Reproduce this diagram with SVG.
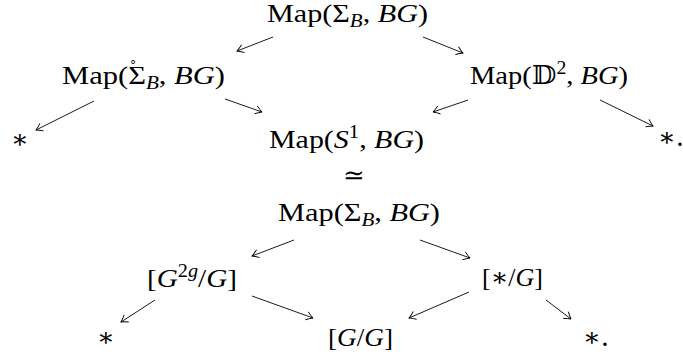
<svg xmlns="http://www.w3.org/2000/svg" width="683" height="354" viewBox="0 0 683 354">
<style>
text{font-family:"Liberation Serif","DejaVu Serif",serif;font-size:26px;fill:#000}
.i{font-style:italic}
.s{font-size:18px}
.m{font-family:"DejaVu Serif","DejaVu Sans",serif}
.c{stroke:#000;stroke-width:0.9;fill:none}
</style>
<defs>
<marker id="ah" viewBox="-8 -5 10 10" refX="0" refY="0" markerWidth="10" markerHeight="10" markerUnits="userSpaceOnUse" orient="auto">
<path d="M-6.5,-4.2 Q-2.5,-1.2 0,0 Q-2.5,1.2 -6.5,4.2" fill="none" stroke="#000" stroke-width="0.9"/>
</marker>
</defs>
<rect width="683" height="354" fill="#fff"/>
<g id="connectors">
<line class="c" x1="273" y1="37" x2="237" y2="51" marker-end="url(#ah)"/>
<line class="c" x1="423" y1="37" x2="463" y2="53" marker-end="url(#ah)"/>
<line class="c" x1="94" y1="101" x2="36" y2="130" marker-end="url(#ah)"/>
<line class="c" x1="225" y1="99" x2="262" y2="112" marker-end="url(#ah)"/>
<line class="c" x1="468" y1="100" x2="433" y2="112" marker-end="url(#ah)"/>
<line class="c" x1="600" y1="100" x2="653" y2="126" marker-end="url(#ah)"/>
<line class="c" x1="294" y1="240" x2="252" y2="256" marker-end="url(#ah)"/>
<line class="c" x1="420" y1="240" x2="470" y2="258" marker-end="url(#ah)"/>
<line class="c" x1="155" y1="300" x2="121" y2="322" marker-end="url(#ah)"/>
<line class="c" x1="252" y1="296" x2="313" y2="318" marker-end="url(#ah)"/>
<line class="c" x1="469" y1="292" x2="409" y2="318" marker-end="url(#ah)"/>
<line class="c" x1="546" y1="300" x2="571" y2="319" marker-end="url(#ah)"/>
</g>
<g id="n1"><text x="267" y="22" textLength="161" lengthAdjust="spacingAndGlyphs">Map(Σ<tspan class="i s" dy="5">B</tspan><tspan dy="-5">, </tspan><tspan class="i">BG</tspan>)</text></g>
<g id="n2"><text x="62" y="84" textLength="163" lengthAdjust="spacingAndGlyphs">Map(Σ<tspan class="i s" dy="5">B</tspan><tspan dy="-5">, </tspan><tspan class="i">BG</tspan>)</text><text x="133" y="75" style="font-size:20px" text-anchor="middle">˚</text></g>
<g id="n3"><text x="470" y="84" textLength="158" lengthAdjust="spacingAndGlyphs">Map(<tspan class="m">𝔻</tspan><tspan class="s" dy="-10">2</tspan><tspan dy="10">, </tspan><tspan class="i">BG</tspan>)</text></g>
<g id="n4"><text class="m" x="11" y="148">∗</text></g>
<g id="n5"><text x="269" y="148" textLength="155" lengthAdjust="spacingAndGlyphs">Map(<tspan class="i">S</tspan><tspan class="s" dy="-10">1</tspan><tspan dy="10">, </tspan><tspan class="i">BG</tspan>)</text></g>
<g id="n6"><text class="m" x="658" y="146">∗.</text></g>
<g id="eq"><text class="m" x="343" y="184">≃</text></g>
<g id="n7"><text x="278" y="221" textLength="162" lengthAdjust="spacingAndGlyphs">Map(Σ<tspan class="i s" dy="5">B</tspan><tspan dy="-5">, </tspan><tspan class="i">BG</tspan>)</text></g>
<g id="n8"><text x="147" y="287" textLength="90" lengthAdjust="spacingAndGlyphs">[<tspan class="i">G</tspan><tspan class="s" dy="-10">2<tspan class="i">g</tspan></tspan><tspan dy="10">/</tspan><tspan class="i">G</tspan>]</text></g>
<g id="n9"><text x="482" y="286" textLength="61" lengthAdjust="spacingAndGlyphs">[<tspan class="m">∗</tspan>/<tspan class="i">G</tspan>]</text></g>
<g id="n10"><text class="m" x="97" y="346">∗</text></g>
<g id="n11"><text x="328" y="346" textLength="65" lengthAdjust="spacingAndGlyphs">[<tspan class="i">G</tspan>/<tspan class="i">G</tspan>]</text></g>
<g id="n12"><text class="m" x="583" y="346">∗.</text></g>
</svg>
